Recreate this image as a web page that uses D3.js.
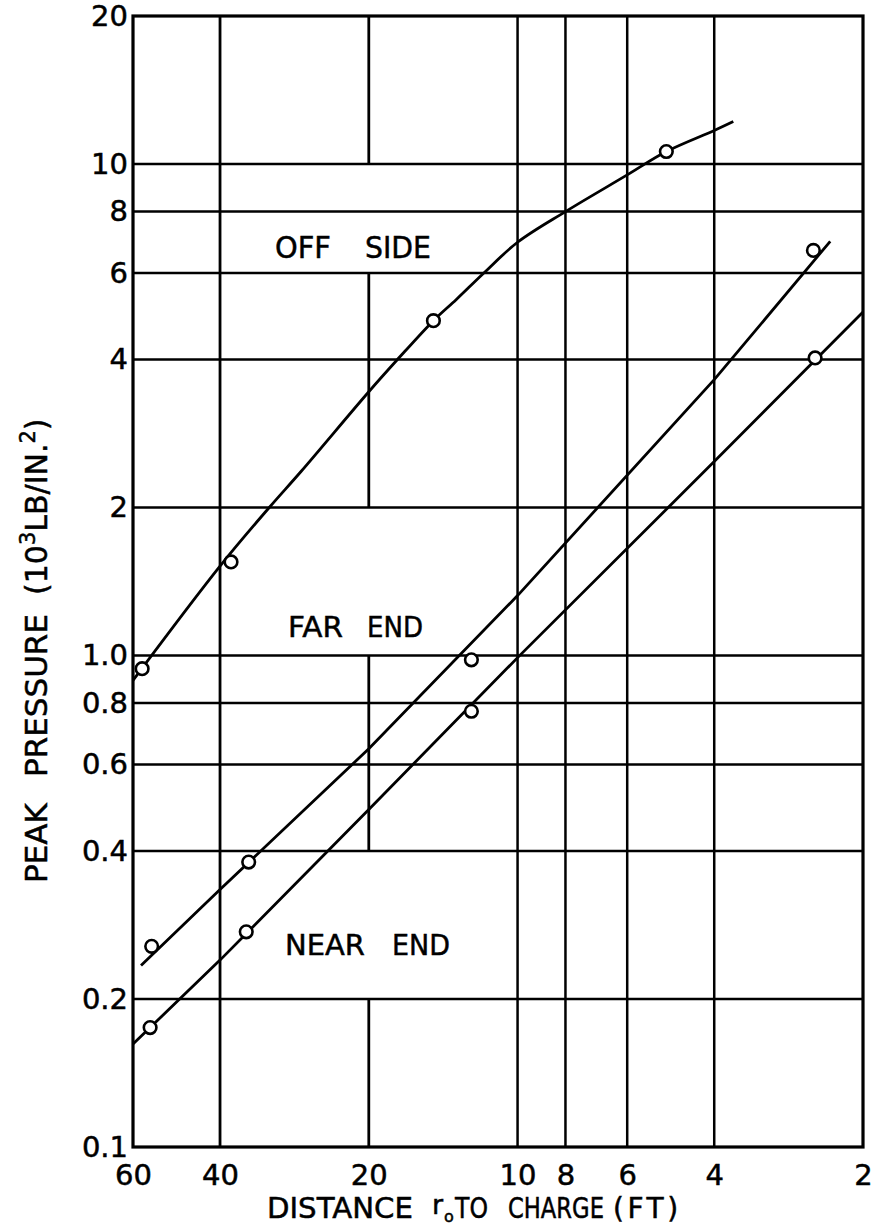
<!DOCTYPE html>
<html><head><meta charset="utf-8">
<script src="https://cdn.jsdelivr.net/npm/d3@7"></script>
<style>body{margin:0;background:#fff} svg{display:block}</style>
</head><body><svg id="c" width="875" height="1228"></svg>
<script>
// ---- data ----
const xTicks = [60, 40, 20, 10, 8, 6, 4, 2];
const xTickLabels = ["60", "40", "20", "10", "8", "6", "4", "2"];
const yTicks = [20, 10, 8, 6, 4, 2, 1, 0.8, 0.6, 0.4, 0.2, 0.1];
const yTickLabels = ["20", "10", "8", "6", "4", "2", "1.0", "0.8", "0.6", "0.4", "0.2", "0.1"];
const xGrid = [40, 10, 8, 6, 4];
const yGrid = [10, 8, 6, 4, 2, 1, 0.8, 0.6, 0.4, 0.2];
// the 20-ft grid line is drawn only over these pressure ranges
const grid20Segments = [[20, 10], [6, 2], [1, 0.4], [0.2, 0.1]];

// OFF SIDE
const offSidePtR = [57.5, 38, 14.8, 5.0];
const offSidePtP = [0.94, 1.55, 4.8, 10.6];
const offSideCurveR = [60, 40, 31.8, 27.4, 20, 17.5, 14.8, 13.3, 11.7, 10, 8, 6, 5.0, 4, 3.66];
const offSideCurveP = [0.89, 1.52, 2.0, 2.37, 3.44, 4.0, 4.8, 5.3, 6.0, 6.93, 8.0, 9.5, 10.6, 11.7, 12.2];
// FAR END
const farEndPtR = [55, 35, 12.4, 2.52];
const farEndPtP = [0.256, 0.38, 0.98, 6.67];
const farEndLineR = [57.8, 40, 20, 10, 4, 2.33];
const farEndLineP = [0.234, 0.334, 0.646, 1.324, 3.64, 6.96];
// NEAR END
const nearEndPtR = [55.4, 35.4, 12.4, 2.5];
const nearEndPtP = [0.175, 0.274, 0.77, 4.03];
const nearEndLineR = [60, 40, 20, 10, 4, 2];
const nearEndLineP = [0.162, 0.240, 0.486, 0.99, 2.48, 5.0];

// ---- chart ----
const FONT = "DejaVu Sans";
const svg = d3.select("#c");
const L = 133, R = 863, T = 16, B = 1147;
const x = d3.scaleLog().domain([60, 2]).range([L, R]);
const y = d3.scaleLog().domain([20, 0.1]).range([T, B]);

const grid = svg.append("g").attr("stroke", "#000").attr("stroke-width", 2.5).attr("fill", "none");
grid.selectAll(".hg").data(yGrid).join("line")
  .attr("x1", L).attr("x2", R).attr("y1", d => y(d)).attr("y2", d => y(d));
grid.selectAll(".vg").data(xGrid).join("line")
  .attr("x1", d => x(d)).attr("x2", d => x(d)).attr("y1", T).attr("y2", B)
  .attr("stroke-width", d => d === 40 ? 2.8 : 2.5);
grid.selectAll(".v20").data(grid20Segments).join("line")
  .attr("x1", x(20)).attr("x2", x(20)).attr("y1", d => y(d[0])).attr("y2", d => y(d[1]))
  .attr("stroke-width", 2.8);

svg.append("rect").attr("x", L).attr("y", T).attr("width", R - L).attr("height", B - T)
  .attr("fill", "none").attr("stroke", "#000").attr("stroke-width", 3.2);

// axes (labels only)
const yAxis = d3.axisLeft(y).tickValues(yTicks).tickSize(0).tickPadding(5)
  .tickFormat((d, i) => yTickLabels[i]);
const gy = svg.append("g").attr("transform", `translate(${L},0)`).call(yAxis);
gy.select(".domain").remove();
gy.selectAll("text").attr("font-family", FONT).attr("font-size", 29).attr("fill", "#000")
  .attr("stroke", "#000").attr("stroke-width", 0.5);

const xAxis = d3.axisBottom(x).tickValues(xTicks).tickSize(0).tickPadding(17)
  .tickFormat((d, i) => xTickLabels[i]);
const gx = svg.append("g").attr("transform", `translate(0,${B})`).call(xAxis);
gx.select(".domain").remove();
gx.selectAll("text").attr("font-family", FONT).attr("font-size", 29).attr("fill", "#000")
  .attr("stroke", "#000").attr("stroke-width", 0.5);

// curves
const lineGen = d3.line().x(d => x(d[0])).y(d => y(d[1]));
const curveGen = d3.line().x(d => x(d[0])).y(d => y(d[1])).curve(d3.curveCatmullRom.alpha(0.5));
const zip = (a, b) => a.map((v, i) => [v, b[i]]);
const data = svg.append("g").attr("stroke", "#000").attr("fill", "none").attr("stroke-width", 2.8);
data.append("path").attr("d", curveGen(zip(offSideCurveR, offSideCurveP)));
data.append("path").attr("d", lineGen(zip(farEndLineR, farEndLineP)));
data.append("path").attr("d", lineGen(zip(nearEndLineR, nearEndLineP)));

const pts = [].concat(zip(offSidePtR, offSidePtP), zip(farEndPtR, farEndPtP), zip(nearEndPtR, nearEndPtP));
svg.append("g").selectAll("circle").data(pts).join("circle")
  .attr("cx", d => x(d[0])).attr("cy", d => y(d[1])).attr("r", 6.3)
  .attr("fill", "#fff").attr("stroke", "#000").attr("stroke-width", 2.6);

// text helper: optional target width reached by horizontal scaling
function word(g, s, px, py, fs, len) {
  const t = g.append("text").attr("font-size", fs).text(s);
  let k = 1;
  if (len) { const w = t.node().getComputedTextLength(); if (w > 0) k = len / w; }
  t.attr("transform", `translate(${px},${py}) scale(${k},1)`);
  return t;
}

// in-plot labels
const lab = svg.append("g").attr("font-family", FONT).attr("fill", "#000")
  .attr("stroke", "#000").attr("stroke-width", 0.5);
word(lab, "OFF", 275, 258, 30, 56); word(lab, "SIDE", 365, 258, 30, 66);
word(lab, "FAR", 288, 637, 28, 55); word(lab, "END", 367, 637, 28, 56);
word(lab, "NEAR", 285, 955, 29, 80); word(lab, "END", 392, 955, 29, 58);

// x title
const xt = svg.append("g").attr("font-family", FONT).attr("fill", "#000")
  .attr("stroke", "#000").attr("stroke-width", 0.5);
word(xt, "DISTANCE", 267, 1218, 28, 146);
word(xt, "r", 432, 1214, 27);
word(xt, "o", 444, 1222, 16);
word(xt, "TO", 455, 1218, 28, 33);
word(xt, "CHARGE", 508, 1218, 28, 96);
word(xt, "(FT)", 613, 1218, 28).attr("letter-spacing", 3.5);

// y title
const yt = svg.append("g").attr("transform", "translate(47,883) rotate(-90)")
  .attr("font-family", FONT).attr("fill", "#000").attr("stroke", "#000").attr("stroke-width", 0.5);
yt.append("text").attr("x", 0).attr("y", 0).attr("font-size", 31).text("PEAK");
yt.append("text").attr("x", 106).attr("y", 0).attr("font-size", 31).text("PRESSURE");
const t3 = yt.append("text").attr("x", 288).attr("y", 0).attr("font-size", 30);
t3.append("tspan").text("(10");
t3.append("tspan").attr("dy", -12).attr("font-size", 21).text("3");
t3.append("tspan").attr("dy", 12).text("LB/IN.");
t3.append("tspan").attr("dy", -12).attr("font-size", 21).text("2");
t3.append("tspan").attr("dy", 12).text(")");
</script></body></html>
